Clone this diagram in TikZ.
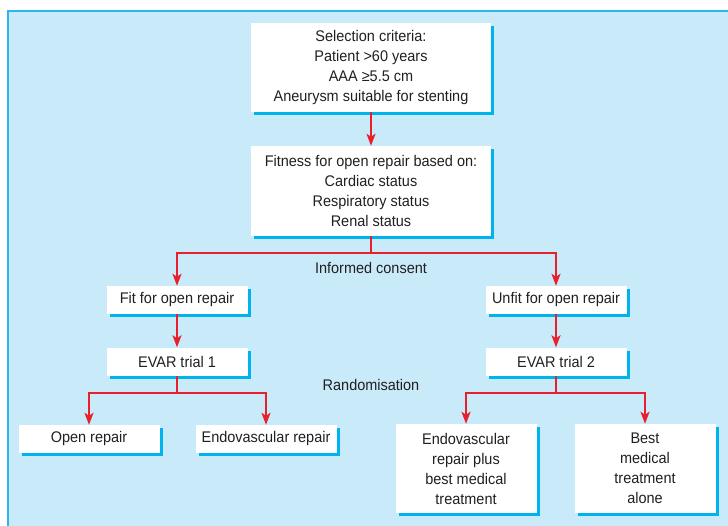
\documentclass[tikz,border=0pt]{standalone}
\usepackage{fontspec}
\setmainfont{Liberation Sans}[FakeStretch=0.94]
\usetikzlibrary{shadows,arrows.meta}
\definecolor{panelblue}{HTML}{C8EAF9}
\definecolor{framecyan}{HTML}{2DB6E9}
\definecolor{shadecyan}{HTML}{00B2EE}
\definecolor{flowred}{HTML}{E8202C}
\definecolor{inkgray}{HTML}{231F20}
\begin{document}
\begin{tikzpicture}[x=1pt,y=-1pt,
  box/.style={fill=white,inner sep=0pt,minimum width=141pt,minimum height=28pt,
    align=center,text=inkgray,
    drop shadow={shadow xshift=3pt,shadow yshift=-3pt,fill=shadecyan,opacity=1}},
  bigbox/.style={box,minimum width=240pt,minimum height=89pt},
  tallbox/.style={box,minimum height=89pt},
  link/.style={flowred,line width=2pt},
  arr/.style={link,-{Stealth[length=12pt,width=9pt,inset=3pt]}},
  font=\fontsize{15.4}{20}\selectfont]
  \clip (0,0) rectangle (728,525);
  \fill[white] (0,0) rectangle (728,525);
  \draw[framecyan,fill=panelblue,line width=1.3pt] (8,11) rectangle (740,540);
  \node[bigbox] (crit) at (371,67.5) {Selection criteria:\\Patient >60 years\\AAA ≥5.5 cm\\Aneurysm suitable for stenting};
  \node[bigbox,minimum height=90pt] (fitness) at (371,191) {Fitness for open repair based on:\\Cardiac status\\Respiratory status\\Renal status};
  \node[box] (fitok) at (177,300) {Fit for open repair};
  \node[box] (unfit) at (556,300) {Unfit for open repair};
  \node[box] (trial1) at (177,361.5) {EVAR trial 1};
  \node[box] (trial2) at (556,361.5) {EVAR trial 2};
  \node[box] (openrep) at (89,439) {Open repair};
  \node[box] (endorep) at (266,439) {Endovascular repair};
  \node[tallbox] (endoplus) at (466,468.5) {Endovascular\\repair plus\\best medical\\treatment};
  \node[tallbox] (bestmed) at (645,468.5) {Best\\medical\\treatment\\alone};
  \node[text=inkgray] (consent) at (371,268) {Informed consent};
  \node[text=inkgray] (random) at (371,385) {Randomisation};
  \coordinate (fork1) at (371,253);
  \coordinate (fork2) at (177,393);
  \coordinate (fork3) at (556,393);
  \draw[arr] (crit) -- (fitness);
  \draw[link] (fitness) -- (fork1);
  \draw[arr] (fork1) -| (fitok);
  \draw[arr] (fork1) -| (unfit);
  \draw[arr] (fitok) -- (trial1);
  \draw[arr] (unfit) -- (trial2);
  \draw[link] (trial1) -- (fork2);
  \draw[arr] (fork2) -| (openrep);
  \draw[arr] (fork2) -| (endorep);
  \draw[link] (trial2) -- (fork3);
  \draw[arr] (fork3) -| (endoplus);
  \draw[arr] (fork3) -| (bestmed);
\end{tikzpicture}
\end{document}
